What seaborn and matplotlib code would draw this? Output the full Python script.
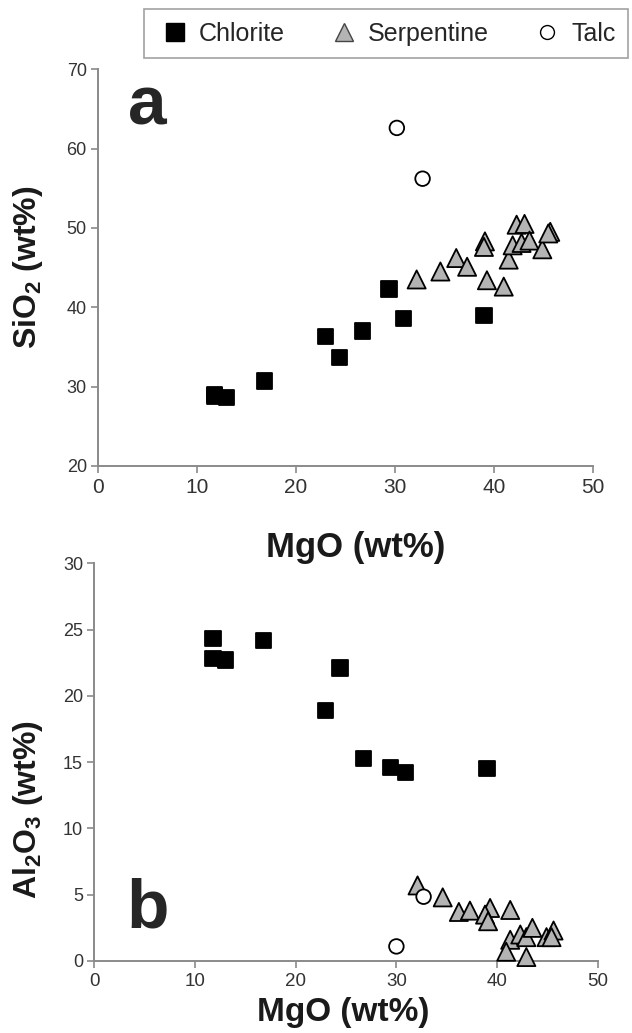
import pandas as pd
import numpy as np
import matplotlib
matplotlib.use("Agg")
import matplotlib.pyplot as plt
import seaborn as sns
from matplotlib.lines import Line2D

# --- données ---
chl_mgo_a = [11.8, 11.8, 13.0, 16.8, 23.0, 24.4, 26.7, 29.4, 30.9, 39.0]
chl_sio2 = [29.0, 28.8, 28.6, 30.7, 36.3, 33.7, 37.0, 42.3, 38.6, 39.0]

srp_mgo_a = [32.2, 34.6, 36.2, 37.3, 39.1, 39.0, 39.3, 41.0, 41.5, 41.9,
             42.3, 43.1, 42.8, 43.6, 44.9, 45.7, 45.5]
srp_sio2 = [43.5, 44.5, 46.2, 45.1, 48.3, 47.6, 43.4, 42.6, 46.0, 47.8,
            50.4, 50.5, 48.1, 48.4, 47.3, 49.5, 49.3]

tlc_mgo_a = [30.2, 32.8]
tlc_sio2 = [62.6, 56.2]

chl_mgo_b = [11.8, 11.8, 13.0, 16.8, 24.4, 23.0, 26.7, 29.4, 30.9, 39.0]
chl_al2o3 = [24.3, 22.8, 22.7, 24.2, 22.1, 18.9, 15.3, 14.6, 14.2, 14.5]

srp_mgo_b = [32.1, 34.6, 36.2, 37.3, 39.3, 38.8, 39.1, 41.3, 41.3, 40.9,
             42.3, 42.9, 43.5, 42.9, 44.9, 45.6, 45.4]
srp_al2o3 = [5.7, 4.8, 3.7, 3.8, 4.0, 3.5, 3.0, 3.85, 1.6, 0.7,
             2.0, 1.8, 2.5, 0.3, 1.8, 2.3, 1.8]

tlc_mgo_b = [32.7, 30.0]
tlc_al2o3 = [4.85, 1.1]

minerals = ["Chlorite", "Serpentine", "Talc"]

sns.set_style("white")
plt.rcParams['font.family'] = ['Liberation Sans', 'DejaVu Sans']
plt.rcParams['mathtext.fontset'] = 'custom'
plt.rcParams['mathtext.bf'] = 'Liberation Sans:bold'
plt.rcParams['mathtext.rm'] = 'Liberation Sans'

palette = {"Chlorite": "black", "Serpentine": "#b4b4b4", "Talc": "white"}
markers = {"Chlorite": "s", "Serpentine": "^", "Talc": "o"}
sizes = {"Chlorite": 120, "Serpentine": 170, "Talc": 110}


def make_df(xs, ys):
    rows = []
    for name, x, y in zip(minerals, xs, ys):
        rows.append(pd.DataFrame({"MgO": x, "val": y, "mineral": name}))
    return pd.concat(rows, ignore_index=True)


df_a = make_df([chl_mgo_a, srp_mgo_a, tlc_mgo_a], [chl_sio2, srp_sio2, tlc_sio2])
df_b = make_df([chl_mgo_b, srp_mgo_b, tlc_mgo_b], [chl_al2o3, srp_al2o3, tlc_al2o3])

fig = plt.figure(figsize=(6.32, 10.33), dpi=100)
ax_a = fig.add_axes([0.155, 0.549, 0.783, 0.384])
ax_b = fig.add_axes([0.149, 0.0697, 0.797, 0.385])

for ax, df in [(ax_a, df_a), (ax_b, df_b)]:
    ax.patch.set_visible(False)
    sns.scatterplot(data=df, x="MgO", y="val", hue="mineral", style="mineral",
                    size="mineral", palette=palette, markers=markers, sizes=sizes,
                    edgecolor="black", linewidth=1.3, legend=False, ax=ax,
                    clip_on=False, zorder=3)
    sns.despine(ax=ax)
    for sp in ["left", "bottom"]:
        ax.spines[sp].set_color("#8a8a8a")
        ax.spines[sp].set_linewidth(1.4)
    ax.tick_params(axis="both", direction="out", length=5, width=1.2,
                   color="#8a8a8a", labelcolor="#333333", left=True, bottom=True)
    ax.set_xlim(0, 50)
    ax.set_xticks(range(0, 51, 10))

ax_a.set_ylim(20, 70)
ax_a.set_yticks(range(20, 71, 10))
ax_b.set_ylim(0, 30)
ax_b.set_yticks(range(0, 31, 5))

ax_a.tick_params(axis="x", labelsize=15, pad=4)
ax_b.tick_params(axis="x", labelsize=13.5, pad=4)
ax_a.tick_params(axis="y", labelsize=13, pad=3)
ax_b.tick_params(axis="y", labelsize=13, pad=3)

ax_a.set_xlabel("MgO (wt%)", fontsize=25, fontweight="bold", color="#1a1a1a")
ax_b.set_xlabel("MgO (wt%)", fontsize=24, fontweight="bold", color="#1a1a1a")
ax_a.set_ylabel(r"SiO$_\mathbf{2}$ (wt%)", fontsize=23, fontweight="bold", color="#1a1a1a")
ax_b.set_ylabel(r"Al$_\mathbf{2}$O$_\mathbf{3}$ (wt%)", fontsize=23, fontweight="bold", color="#1a1a1a")

ax_a.xaxis.set_label_coords(0.52, -0.164)
ax_b.xaxis.set_label_coords(0.494, -0.09)
ax_a.yaxis.set_label_coords(-0.107, 0.50)
ax_b.yaxis.set_label_coords(-0.097, 0.38)

ax_a.text(0.099, 0.905, "a", transform=ax_a.transAxes, fontsize=50,
          fontweight="bold", ha="center", va="center")
ax_b.text(0.107, 0.13, "b", transform=ax_b.transAxes, fontsize=50,
          fontweight="bold", ha="center", va="center")

handles = [Line2D([], [], linestyle="none", marker=markers[m], markersize=ms,
                  markerfacecolor=palette[m], markeredgecolor="black" if m != "Serpentine" else "#444444",
                  markeredgewidth=1.0, label=m)
           for m, ms in zip(minerals, [13, 13, 10])]
leg = fig.legend(handles=handles, loc="upper left", bbox_to_anchor=(0.228, 0.991),
                 ncol=3, frameon=True, fancybox=False, fontsize=18,
                 handletextpad=0.2, columnspacing=1.6, handlelength=1.5,
                 borderpad=0.5, borderaxespad=0)
leg.get_frame().set_edgecolor("#8a8a8a")
leg.get_frame().set_linewidth(1.2)

fig.savefig("out.png", dpi=100)
